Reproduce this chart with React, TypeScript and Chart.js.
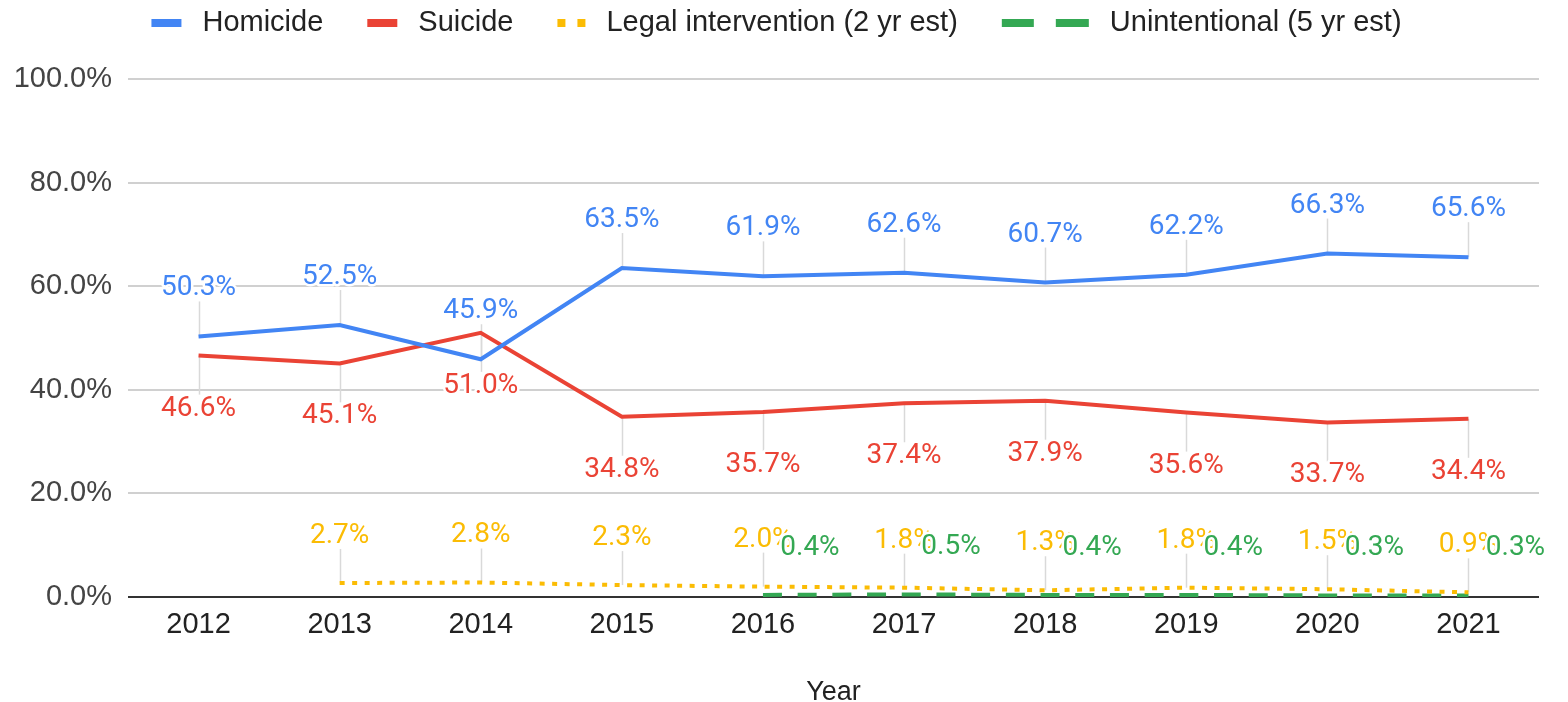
import React, { useEffect, useRef } from 'react';
import { Chart, registerables } from 'chart.js';

Chart.register(...registerables);

const years = ['2012', '2013', '2014', '2015', '2016', '2017', '2018', '2019', '2020', '2021'];
const homicide = [50.3, 52.5, 45.9, 63.5, 61.9, 62.6, 60.7, 62.2, 66.3, 65.6];
const suicide = [46.6, 45.1, 51.0, 34.8, 35.7, 37.4, 37.9, 35.6, 33.7, 34.4];
const legalIntervention = [null, 2.7, 2.8, 2.3, 2.0, 1.8, 1.3, 1.8, 1.5, 0.9];
const unintentional = [null, null, null, null, 0.4, 0.5, 0.4, 0.4, 0.3, 0.3];
const seriesNames = ['Homicide', 'Suicide', 'Legal intervention (2 yr est)', 'Unintentional (5 yr est)'];
const yTickValues = [0, 20, 40, 60, 80, 100];
const xTitle = 'Year';

const colors = ['#4285F4', '#EA4335', '#FBBC04', '#34A853'];

const LEGEND_FONT = '29px "Liberation Sans", Arial, sans-serif';
const LABEL_FONT = '28px Roboto, "Liberation Sans", sans-serif';

// label placement styles per series
const labelStyles = [
  { dx: 0, dy: -48, leader: true },
  { dx: 0, dy: 53, leader: true },
  { dx: 0, dy: -47, leader: true },
  { dx: 47, dy: -47, leader: false },
];

// legend marker styles per series: list of [offset, width] segments
const legendMarkers = [
  { width: 30, h: 8, parts: [[0, 30]] },
  { width: 30, h: 8, parts: [[0, 30]] },
  { width: 28, h: 8, parts: [[0, 8], [20, 8]] },
  { width: 87, h: 8, parts: [[0, 32], [54, 33]] },
];

const leaderPlugin = {
  id: 'leaderLines',
  beforeDatasetsDraw(chart: any) {
    const ctx = chart.ctx;
    ctx.save();
    ctx.strokeStyle = '#d9d9d9';
    ctx.lineWidth = 1.5;
    chart.data.datasets.forEach((ds: any, i: number) => {
      const st = labelStyles[i];
      if (!st.leader) return;
      const meta = chart.getDatasetMeta(i);
      meta.data.forEach((el: any, j: number) => {
        if (ds.data[j] == null) return;
        const end = st.dy < 0 ? el.y + st.dy + 13 : el.y + st.dy - 14;
        ctx.beginPath();
        ctx.moveTo(Math.round(el.x) + 0.5, el.y);
        ctx.lineTo(Math.round(el.x) + 0.5, end);
        ctx.stroke();
      });
    });
    ctx.restore();
  },
};

const dataLabelPlugin = {
  id: 'dataLabels',
  afterDatasetsDraw(chart: any) {
    const ctx = chart.ctx;
    ctx.save();
    ctx.font = LABEL_FONT;
    ctx.textAlign = 'center';
    ctx.textBaseline = 'middle';
    ctx.lineJoin = 'round';
    chart.data.datasets.forEach((ds: any, i: number) => {
      const st = labelStyles[i];
      const meta = chart.getDatasetMeta(i);
      meta.data.forEach((el: any, j: number) => {
        const v = ds.data[j];
        if (v == null) return;
        const text = v.toFixed(1) + '%';
        const x = el.x + st.dx;
        const y = el.y + st.dy;
        ctx.strokeStyle = '#ffffff';
        ctx.lineWidth = 5;
        ctx.strokeText(text, x, y);
        ctx.fillStyle = ds.borderColor;
        ctx.fillText(text, x, y);
      });
    });
    ctx.restore();
  },
};

const legendPlugin = {
  id: 'sheetLegend',
  afterDraw(chart: any) {
    const ctx = chart.ctx;
    ctx.save();
    ctx.font = LEGEND_FONT;
    ctx.textBaseline = 'middle';
    ctx.textAlign = 'left';
    const y = 23;
    const items = chart.data.datasets.map((ds: any, i: number) => ({
      ds,
      m: legendMarkers[i],
      tw: ctx.measureText(ds.label).width,
    }));
    let total = 0;
    items.forEach((it: any, k: number) => {
      total += it.m.width + 21 + it.tw + (k < items.length - 1 ? 44 : 0);
    });
    let x = 776.5 - total / 2;
    items.forEach((it: any) => {
      ctx.fillStyle = it.ds.borderColor;
      it.m.parts.forEach((p: number[]) => ctx.fillRect(x + p[0], y - it.m.h / 2, p[1], it.m.h));
      x += it.m.width + 21;
      ctx.fillStyle = '#222222';
      ctx.fillText(it.ds.label, x, y);
      x += it.tw + 44;
    });
    ctx.restore();
  },
};

export default function App() {
  const ref = useRef<HTMLCanvasElement>(null);
  useEffect(() => {
    document.body.style.margin = '0';
    const chart = new Chart(ref.current as HTMLCanvasElement, {
      type: 'line',
      data: {
        labels: years,
        datasets: [
          {
            label: seriesNames[0],
            data: homicide,
            borderColor: colors[0],
            backgroundColor: colors[0],
            borderWidth: 4,
            pointRadius: 0,
            tension: 0,
          },
          {
            label: seriesNames[1],
            data: suicide,
            borderColor: colors[1],
            backgroundColor: colors[1],
            borderWidth: 4,
            pointRadius: 0,
            tension: 0,
          },
          {
            label: seriesNames[2],
            data: legalIntervention,
            borderColor: colors[2],
            backgroundColor: colors[2],
            borderWidth: 4,
            borderDash: [5, 7.5],
            pointRadius: 0,
            tension: 0,
          },
          {
            label: seriesNames[3],
            data: unintentional,
            borderColor: colors[3],
            backgroundColor: colors[3],
            borderWidth: 4,
            borderDash: [19, 15.7],
            pointRadius: 0,
            tension: 0,
          },
        ],
      },
      options: {
        animation: false,
        responsive: true,
        maintainAspectRatio: false,
        layout: { padding: { top: 79, right: 29, bottom: 0, left: 0 } },
        plugins: {
          legend: { display: false },
          tooltip: { enabled: false },
        },
        scales: {
          x: {
            offset: true,
            grid: { display: false, drawTicks: false },
            border: { display: false },
            ticks: {
              color: '#222222',
              font: { family: '"Liberation Sans", Arial, sans-serif', size: 29 },
              padding: 11,
              maxRotation: 0,
            },
            title: {
              display: true,
              text: xTitle,
              color: '#222222',
              font: { family: '"Liberation Sans", Arial, sans-serif', size: 27 },
              padding: { top: 0, bottom: -7 },
            },
            afterFit: (s: any) => {
              s.height = 105;
            },
          },
          y: {
            min: 0,
            max: 100,
            afterBuildTicks: (s: any) => {
              s.ticks = yTickValues.map((v) => ({ value: v }));
            },
            grid: {
              drawTicks: false,
              color: (c: any) => (c.tick && c.tick.value === 0 ? '#333333' : '#d0d0d0'),
              lineWidth: 2,
            },
            border: { display: false },
            ticks: {
              color: '#444444',
              font: { family: '"Liberation Sans", Arial, sans-serif', size: 29 },
              padding: 16,
              callback: (v: any) => Number(v).toFixed(1) + '%',
            },
            afterFit: (s: any) => {
              s.width = 128;
            },
          },
        },
      },
      plugins: [leaderPlugin, dataLabelPlugin, legendPlugin],
    } as any);
    return () => chart.destroy();
  }, []);
  return (
    <div style={{ width: 1568, height: 702, position: 'relative' }}>
      <canvas ref={ref} />
    </div>
  );
}
